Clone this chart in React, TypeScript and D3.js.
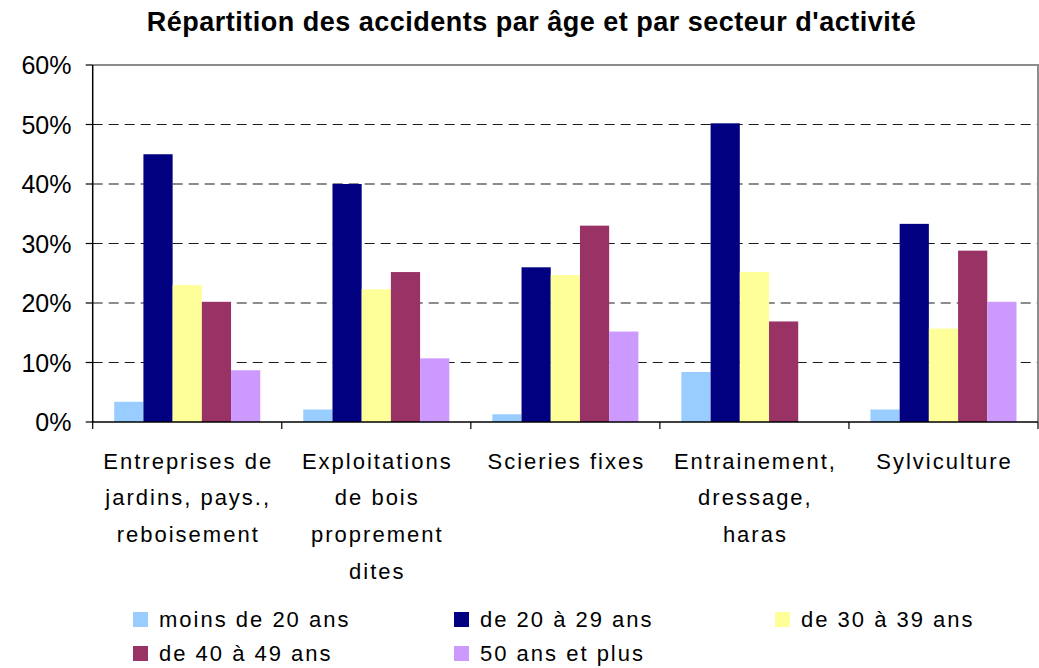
import * as d3 from "d3";

const categories = [
  ["Entreprises de", "jardins, pays.,", "reboisement"],
  ["Exploitations", "de bois", "proprement", "dites"],
  ["Scieries fixes"],
  ["Entrainement,", "dressage,", "haras"],
  ["Sylviculture"],
];

const seriesNames = [
  "moins de 20 ans",
  "de 20 à 29 ans",
  "de 30 à 39 ans",
  "de 40 à 49 ans",
  "50 ans et plus",
];
const seriesColors = ["#99ccff", "#000080", "#ffff99", "#993366", "#cc99ff"];

const moins20 = [3.4, 2.1, 1.3, 8.4, 2.1];
const de20a29 = [45, 40, 26, 50.2, 33.3];
const de30a39 = [23, 22.3, 24.7, 25.2, 15.7];
const de40a49 = [20.2, 25.2, 33, 16.9, 28.8];
const plus50 = [8.7, 10.7, 15.2, 0, 20.2];
const seriesValues = [moins20, de20a29, de30a39, de40a49, plus50];

const yTicks = [0, 10, 20, 30, 40, 50, 60];

const W = 1039;
const H = 668;
const left = 92.7;
const right = 1038;
const top = 65;
const bottom = 422;

const App = () => {
  const idx = categories.map((_, i) => i);
  const x0 = d3
    .scaleBand<number>()
    .domain(idx)
    .range([left, right])
    .paddingInner(0.2275)
    .paddingOuter(0.11375);
  const x1 = d3
    .scaleBand<number>()
    .domain(seriesNames.map((_, i) => i))
    .range([0, x0.bandwidth()]);
  const y = d3.scaleLinear().domain([0, 60]).range([bottom, top]);
  const step = x0.step();
  const bounds = idx.map((i) => x0(i)! - (step * 0.2275) / 2);
  bounds.push(right);

  const font = "Arial, 'Liberation Sans', sans-serif";

  return (
    <svg
      width={W}
      height={H}
      style={{ position: "absolute", left: 0, top: 0, background: "#fff" }}
      fontFamily={font}
    >
      <text
        x={531.5}
        y={31}
        textAnchor="middle"
        fontSize={27}
        fontWeight="bold"
        letterSpacing={0.5}
      >
        Répartition des accidents par âge et par secteur d'activité
      </text>

      {/* grid */}
      {yTicks
        .filter((t) => t > 0 && t < 60)
        .map((t) => (
          <line
            key={t}
            x1={left}
            x2={right}
            y1={y(t)}
            y2={y(t)}
            stroke="#1a1a1a"
            strokeWidth={1.2}
            strokeDasharray="10,6"
          />
        ))}
      {/* plot border top / right */}
      <path
        d={`M${left},${top}H${right}V${bottom}`}
        fill="none"
        stroke="#8c8c8c"
        strokeWidth={2}
      />

      {/* bars */}
      {seriesValues.map((vals, s) =>
        vals.map((v, c) => (
          <rect
            key={`${s}-${c}`}
            x={x0(c)! + x1(s)!}
            y={y(v)}
            width={x1.bandwidth()}
            height={bottom - y(v)}
            fill={seriesColors[s]}
          />
        ))
      )}

      {/* axes */}
      <line x1={left} x2={left} y1={top} y2={bottom} stroke="#000" strokeWidth={1.5} />
      <line x1={left} x2={right} y1={bottom} y2={bottom} stroke="#000" strokeWidth={1.5} />
      {yTicks.map((t) => (
        <g key={t}>
          <line x1={left - 7} x2={left} y1={y(t)} y2={y(t)} stroke="#000" strokeWidth={1.2} />
          <text x={71.5} y={y(t)} dy="0.36em" textAnchor="end" fontSize={25}>
            {t}%
          </text>
        </g>
      ))}
      {bounds.map((b, i) => (
        <line key={i} x1={b} x2={b} y1={bottom} y2={bottom + 7} stroke="#000" strokeWidth={1.2} />
      ))}

      {/* category labels */}
      {categories.map((lines, c) => (
        <text key={c} textAnchor="middle" fontSize={22} letterSpacing={2}>
          {lines.map((l, k) => (
            <tspan key={k} x={x0(c)! + x0.bandwidth() / 2 + 1} y={468.5 + k * 36.7}>
              {l}
            </tspan>
          ))}
        </text>
      ))}

      {/* legend */}
      {seriesNames.map((n, s) => {
        const col = s % 3;
        const row = Math.floor(s / 3);
        const lx = 133 + col * 321;
        const ly = 612 + row * 34;
        return (
          <g key={n}>
            <rect x={lx} y={ly} width={15} height={15} fill={seriesColors[s]} />
            <text x={lx + 26} y={ly + 15} fontSize={22} letterSpacing={2}>
              {n}
            </text>
          </g>
        );
      })}
    </svg>
  );
};

export default App;
